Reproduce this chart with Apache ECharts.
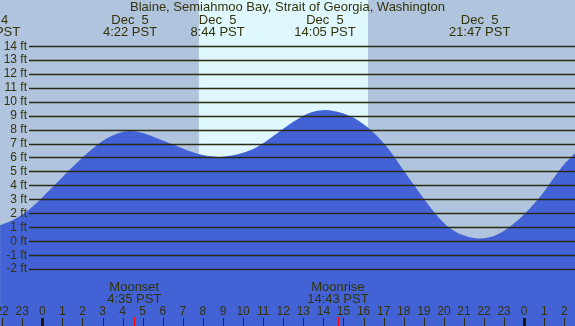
<!DOCTYPE html>
<html>
<head>
<meta charset="utf-8">
<script src="https://cdn.jsdelivr.net/npm/echarts@6/dist/echarts.min.js"></script>
<style>
  html, body { margin: 0; padding: 0; background: #b0c4de; }
  #chart { width: 575px; height: 326px; }
</style>
</head>
<body>
<div id="chart"></div>
<script>
// Hours since Dec 5 00:00 PST and predicted tide height (ft)
const tideHours = [-2.1, -1.5, -1, -0.5, 0, 0.5, 1, 1.5, 2, 2.5, 3, 3.5, 4, 4.37, 5, 5.5, 6, 6.5, 7, 7.5, 8, 8.5, 8.73, 9, 9.5, 10, 10.5, 11, 11.5, 12, 12.5, 13, 13.5, 14.08, 14.5, 15, 15.5, 16, 16.5, 17, 17.5, 18, 18.5, 19, 19.5, 20, 20.5, 21, 21.5, 21.78, 22, 22.5, 23, 23.5, 24, 24.5, 25, 25.5, 26, 26.53];
const tideFeet = [1.17, 1.5, 1.9, 2.48, 3.15, 3.88, 4.6, 5.33, 6.02, 6.65, 7.2, 7.6, 7.85, 7.92, 7.78, 7.52, 7.23, 6.94, 6.66, 6.4, 6.2, 6.08, 6.05, 6.07, 6.17, 6.35, 6.62, 7.03, 7.55, 8.08, 8.58, 9.02, 9.3, 9.43, 9.36, 9.18, 8.86, 8.4, 7.8, 7.05, 6.13, 5.08, 4.05, 3.06, 2.12, 1.32, 0.76, 0.42, 0.24, 0.2, 0.22, 0.38, 0.75, 1.3, 1.95, 2.72, 3.6, 4.6, 5.55, 6.3];

const extremeHours = [-2.63, 4.37, 8.73, 14.08, 21.78];
const extremeLabels = ['Dec  4\n21:22 PST', 'Dec  5\n4:22 PST', 'Dec  5\n8:44 PST', 'Dec  5\n14:05 PST', 'Dec  5\n21:47 PST'];

const moonHours = [4.58, 14.72];
const moonLabels = ['Moonset\n4:35 PST', 'Moonrise\n14:43 PST'];

const daylightHours = [7.8, 16.22];

const hourTicks = [-2, -1, 0, 1, 2, 3, 4, 5, 6, 7, 8, 9, 10, 11, 12, 13, 14, 15, 16, 17, 18, 19, 20, 21, 22, 23, 24, 25, 26];
const hourLabels = ['22', '23', '0', '1', '2', '3', '4', '5', '6', '7', '8', '9', '10', '11', '12', '13', '14', '15', '16', '17', '18', '19', '20', '21', '22', '23', '0', '1', '2'];
const midnightHours = [0, 24];

const depthMin = -2, depthMax = 14;

const TXT = '#33330a';
const LINE = '#2b2b10';
const FONT = 'Liberation Sans';

const chart = echarts.init(document.getElementById('chart'), null, { renderer: 'canvas' });

function textSeries(hours, labels, yPix, size, lineH) {
  return {
    type: 'custom', xAxisIndex: 0, yAxisIndex: 0, z: 6, silent: true,
    data: hours.map(h => [h, 0]),
    renderItem: function (params, api) {
      const x = api.coord([api.value(0), 0])[0];
      return {
        type: 'text', x: x, y: yPix,
        style: {
          text: labels[params.dataIndex], fill: TXT,
          fontSize: size, fontFamily: FONT,
          align: 'center', verticalAlign: 'middle', lineHeight: lineH
        }
      };
    }
  };
}

function tickSeries(hours, color, width, y1) {
  return {
    type: 'custom', xAxisIndex: 0, yAxisIndex: 0, z: 7, silent: true,
    data: hours.map(h => [h, 0]),
    renderItem: function (params, api) {
      const x = Math.round(api.coord([api.value(0), 0])[0]) + (width % 2 ? 0.5 : 0);
      return {
        type: 'line',
        shape: { x1: x, y1: y1, x2: x, y2: 326 },
        style: { stroke: color, lineWidth: width }
      };
    }
  };
}

const option = {
  backgroundColor: '#b0c4de',
  animation: false,
  title: {
    text: 'Blaine, Semiahmoo Bay, Strait of Georgia, Washington',
    left: 'center', top: 1, padding: 0,
    textStyle: { color: TXT, fontSize: 13, fontWeight: 'normal', fontFamily: FONT }
  },
  grid: [
    { left: 0, right: 0, top: 0, bottom: 0 },
    { left: 29, right: 0, top: 46.25, height: 222.9 }
  ],
  xAxis: [
    { type: 'value', gridIndex: 0, min: -2.107, max: 26.53, show: false },
    { type: 'value', gridIndex: 1, min: 0, max: 1, show: false }
  ],
  yAxis: [
    { type: 'value', gridIndex: 0, min: -6.08, max: 17.32, show: false },
    {
      type: 'value', gridIndex: 1, min: depthMin, max: depthMax, interval: 1, z: 5,
      axisLine: { show: false }, axisTick: { show: false },
      splitLine: { show: true, lineStyle: { color: LINE, width: 1.3 } },
      axisLabel: { formatter: '{value} ft', color: TXT, fontSize: 12, fontFamily: FONT, margin: 2 }
    }
  ],
  series: [
    {
      type: 'custom', xAxisIndex: 0, yAxisIndex: 0, z: 1, silent: true,
      data: [daylightHours],
      renderItem: function (params, api) {
        const a = api.coord([api.value(0), 0]);
        const b = api.coord([api.value(1), 0]);
        return {
          type: 'rect',
          shape: { x: a[0], y: params.coordSys.y, width: b[0] - a[0], height: params.coordSys.height },
          style: { fill: '#dff7ff' }
        };
      }
    },
    {
      type: 'line', xAxisIndex: 0, yAxisIndex: 0, z: 2,
      data: tideHours.map((h, i) => [h, tideFeet[i]]),
      smooth: 0.35, showSymbol: false, symbol: 'none',
      lineStyle: { width: 0 },
      areaStyle: { color: '#4262d6', opacity: 1, origin: 'start' }
    },
    { type: 'line', xAxisIndex: 1, yAxisIndex: 1, data: [] },
    textSeries(extremeHours, extremeLabels, 26, 13, 12),
    textSeries(moonHours, moonLabels, 293.5, 13, 12),
    textSeries(hourTicks, hourLabels, 311.8, 12, 12),
    tickSeries(hourTicks, LINE, 1, 318),
    tickSeries(midnightHours, '#1a1a00', 3, 318),
    tickSeries(moonHours, '#ff0000', 1, 317)
  ]
};
chart.setOption(option);
</script>
</body>
</html>
